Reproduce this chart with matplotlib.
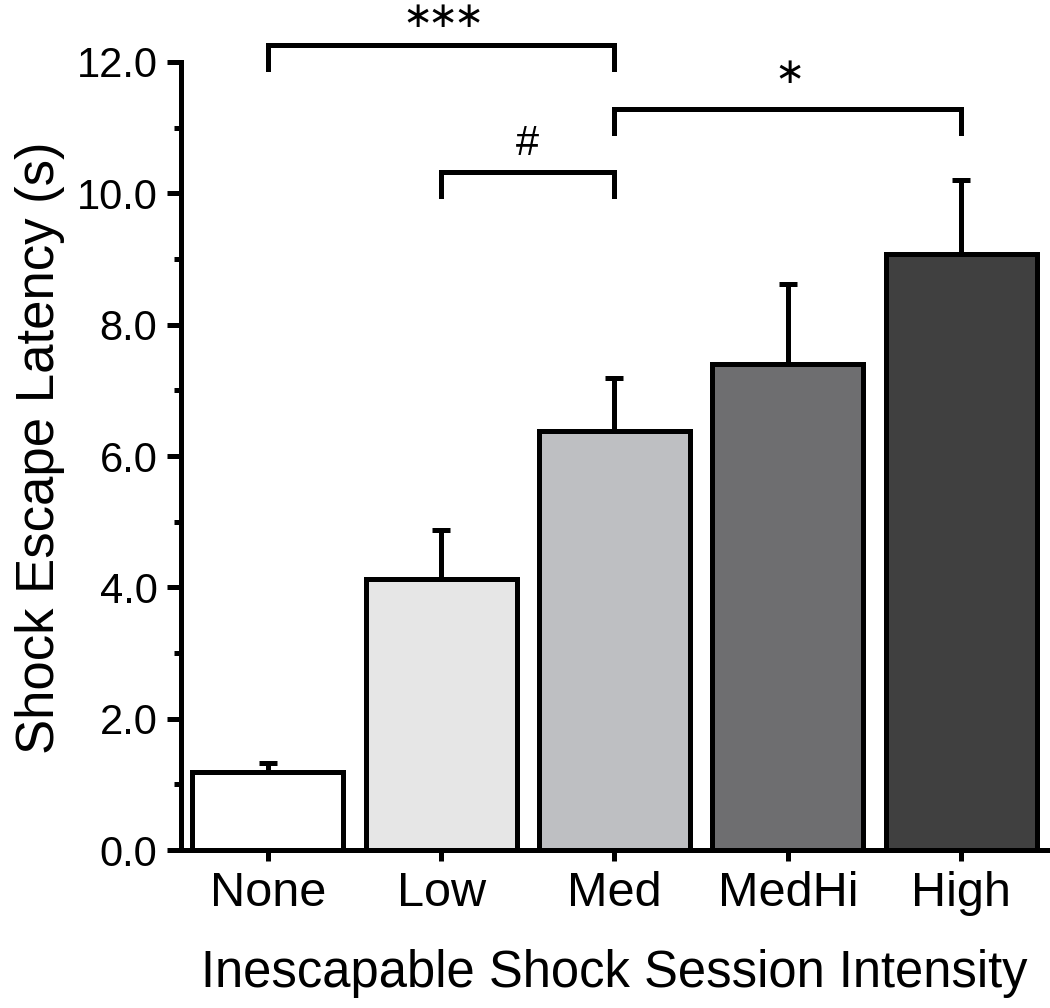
import numpy as np
import matplotlib
matplotlib.use("Agg")
import matplotlib.pyplot as plt

plt.rcParams['font.family'] = ['Liberation Sans', 'DejaVu Sans']

# data
groups = ['None', 'Low', 'Med', 'MedHi', 'High']
latency = [1.19, 4.12, 6.38, 7.40, 9.07]
sem = [0.13, 0.76, 0.81, 1.22, 1.13]
bar_colors = ['#ffffff', '#e6e6e6', '#bebfc2', '#6e6e70', '#404040']

# significance brackets: (left group, right group, bar height, label, label y)
brackets = [(0, 2, 12.26, '***', 12.68),
            (1, 2, 10.32, '#', 10.75),
            (2, 4, 11.28, '*', 11.83)]
leg_drop = 0.36

lw = 3.6

fig = plt.figure(figsize=(10.5, 10.08), dpi=100)
ax = fig.add_axes([0.1724, 0.1567, 0.8256, 0.7818])

x = np.arange(len(groups))
ax.bar(x, latency, width=0.87, color=bar_colors, edgecolor='black',
       linewidth=lw, zorder=3)
ax.errorbar(x, latency, yerr=[np.zeros(len(sem)), sem], fmt='none',
            ecolor='black', elinewidth=lw, capsize=6.5, capthick=lw, zorder=2)

for a, b, h, lab, ty in brackets:
    ax.plot([a, a, b, b], [h - leg_drop, h, h, h - leg_drop], color='black',
            lw=lw, solid_joinstyle='miter', clip_on=False)
    xc = (a + b) / 2
    if lab == '#':
        ax.text(xc, ty, lab, ha='center', va='center', fontsize=30, clip_on=False)
        continue
    # asterisks drawn one by one (centred glyph), ~18 pt apart
    n = len(lab)
    for i in range(n):
        ax.annotate(r'$\ast$', (xc, ty), xytext=((i - (n - 1) / 2) * 18.5, 0),
                    textcoords='offset points', ha='center', va='center',
                    fontsize=26, annotation_clip=False)

ax.set_xlim(-0.5, 4.5)
ax.set_ylim(0, 12)
ax.set_yticks(np.arange(0, 12.1, 2))
ax.set_yticks(np.arange(1, 12, 2), minor=True)
ax.set_yticklabels([f'{v:.1f}' for v in np.arange(0, 12.1, 2)])
ax.set_xticks(x)
ax.set_xticklabels(groups)

for side in ['top', 'right']:
    ax.spines[side].set_visible(False)
for side in ['left', 'bottom']:
    ax.spines[side].set_linewidth(lw)

ax.tick_params(axis='y', which='major', length=10, width=lw, labelsize=30, pad=7)
ax.tick_params(axis='y', which='minor', length=5, width=lw)
ax.tick_params(axis='x', which='major', length=8, width=lw, labelsize=35, pad=7)

ax.set_ylabel('Shock Escape Latency (s)', fontsize=38, labelpad=8)
ax.yaxis.label.set_y(0.51)
ax.set_xlabel('Inescapable Shock Session Intensity', fontsize=36.5, labelpad=24)

fig.savefig('out.png', dpi=100)
